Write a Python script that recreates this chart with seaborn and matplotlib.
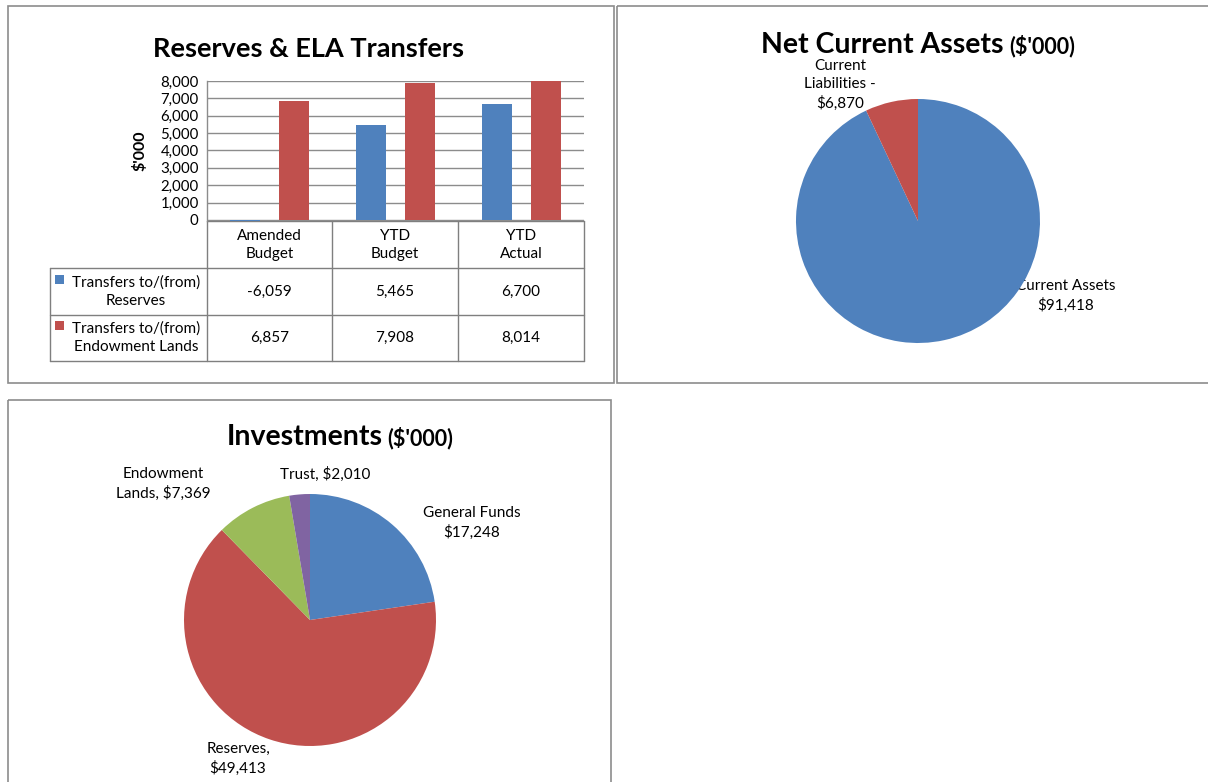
import numpy as np
import pandas as pd
import seaborn as sns
import matplotlib.pyplot as plt
from matplotlib.patches import Rectangle

# ---- data ----
periods = ["Amended\nBudget", "YTD\nBudget", "YTD\nActual"]
series_names = ["Transfers to/(from)\nReserves", "Transfers to/(from)\nEndowment Lands"]
reserves = [-6059, 5465, 6700]
endowment = [6857, 7908, 8014]

nca_labels = ["Current Assets\n$91,418", "Current\nLiabilities -\n$6,870"]
nca_values = [91418, 6870]

inv_labels = ["General Funds\n$17,248", "Reserves,\n$49,413", "Endowment\nLands, $7,369", "Trust, $2,010"]
inv_values = [17248, 49413, 7369, 2010]

blue, red, green, purple = "#4F81BD", "#C0504D", "#9BBB59", "#8064A2"
grey = "#8c8c8c"

sns.set_theme(style="white")
plt.rcParams['font.family'] = ['Lato', 'DejaVu Sans']
plt.rcParams['text.color'] = 'black'
plt.rcParams['ytick.labelcolor'] = 'black'

W, H = 1208, 782
fig = plt.figure(figsize=(W / 100, H / 100), dpi=100)

# overlay in pixel coordinates for frames, table and labels
canvas = fig.add_axes([0, 0, 1, 1])
canvas.set_xlim(0, W)
canvas.set_ylim(H, 0)
canvas.axis('off')


def px_axes(x0, y0, x1, y1):
    return fig.add_axes([x0 / W, 1 - y1 / H, (x1 - x0) / W, (y1 - y0) / H])


def frame(x0, y0, x1, y1):
    canvas.add_patch(Rectangle((x0, y0), x1 - x0, y1 - y0, fill=False, ec=grey, lw=1.2))


def line(xs, ys):
    canvas.plot(xs, ys, color="#7f7f7f", lw=1)


def title(cx, y, big, small, bs=20, ss=15.5):
    t1 = canvas.text(0, y, big, fontsize=bs, fontweight='bold', va='baseline', ha='left')
    t2 = canvas.text(0, y, small, fontsize=ss, fontweight='bold', va='baseline', ha='left')
    r = fig.canvas.get_renderer()
    w1 = t1.get_window_extent(r).width
    w2 = t2.get_window_extent(r).width if small else 0
    x0 = cx - (w1 + w2 + 5) / 2
    t1.set_x(x0)
    t2.set_x(x0 + w1 + 5)


frame(8, 6, 614, 383)
frame(617, 6, 1215, 383)
frame(8, 400, 611, 790)

# ---- bar chart with data table ----
df = pd.DataFrame({
    "period": periods * 2,
    "series": [series_names[0]] * 3 + [series_names[1]] * 3,
    "value": reserves + endowment,
})
ax = px_axes(207, 81, 584, 221)
sns.barplot(data=df, x="period", y="value", hue="series", palette=[blue, red],
            width=0.78, gap=0.39, saturation=1, errorbar=None, legend=False,
            linewidth=0, ax=ax)
ax.set_xlim(-0.5, 2.5)
ax.set_ylim(-60, 8000)
ax.set_yticks(range(0, 8001, 1000))
ax.set_yticklabels([f"{v:,}" for v in range(0, 8001, 1000)], fontsize=10.8)
ax.set_xticks([])
ax.set_xlabel("")
ax.set_ylabel("")
ax.yaxis.grid(True, color=grey, lw=1)
ax.set_axisbelow(True)
ax.tick_params(axis='y', length=3, pad=3, color=grey)
for s in ["top", "right", "bottom"]:
    ax.spines[s].set_visible(False)
ax.spines["left"].set_color(grey)
ax.spines["left"].set_linewidth(1)

title(311, 57, "Reserves & ELA Transfers", "", bs=19.5)
canvas.text(140, 151, "$'000", rotation=90, fontsize=11.5, fontweight='bold', ha='center', va='center')

cols = [207, 332, 458, 584]
rows = [221, 268, 315, 361]
for x in cols:
    line([x, x], [221, 361])
line([50, 50], [268, 361])
line([207, 584], [221, 221])
for y in rows[1:]:
    line([50, 584], [y, y])

for i, p in enumerate(periods):
    canvas.text((cols[i] + cols[i + 1]) / 2, 245, p, ha='center', va='center',
                fontsize=11, linespacing=1.4)
for r, (name, vals, c) in enumerate(zip(series_names, [reserves, endowment], [blue, red])):
    yc = (rows[r + 1] + rows[r + 2]) / 2
    canvas.add_patch(Rectangle((55, yc - 17), 9, 9, color=c, lw=0))
    canvas.text(136, yc, name, ha='center', va='center', fontsize=11, linespacing=1.4)
    for i, v in enumerate(vals):
        canvas.text((cols[i] + cols[i + 1]) / 2, yc, f"{v:,}", ha='center', va='center', fontsize=11)

# ---- Net Current Assets pie ----
ax2 = px_axes(918 - 122, 221 - 122, 918 + 122, 221 + 122)
ax2.pie(nca_values, colors=[blue, red], startangle=90, counterclock=False,
        wedgeprops=dict(linewidth=0))
ax2.set_xlim(-1, 1)
ax2.set_ylim(-1, 1)
ax2.set_aspect('equal')
ax2.axis('off')
title(918, 53, "Net Current Assets", "($'000)", bs=20.5, ss=15.5)
canvas.text(1066, 296, nca_labels[0], ha='center', va='center', fontsize=11, linespacing=1.4)
canvas.text(840, 85, nca_labels[1], ha='center', va='center', fontsize=11, linespacing=1.4)

# ---- Investments pie ----
ax3 = px_axes(310 - 126, 620 - 126, 310 + 126, 620 + 126)
ax3.pie(inv_values, colors=[blue, red, green, purple], startangle=90, counterclock=False,
        wedgeprops=dict(linewidth=0))
ax3.set_xlim(-1, 1)
ax3.set_ylim(-1, 1)
ax3.set_aspect('equal')
ax3.axis('off')
title(340, 445, "Investments", "($'000)", bs=20.5, ss=15.5)
inv_pos = [(472, 523), (238, 759), (163, 484), (325, 474)]
for lab, (x, y) in zip(inv_labels, inv_pos):
    canvas.text(x, y, lab, ha='center', va='center', fontsize=11, linespacing=1.4)

fig.savefig("out.png", dpi=100)
